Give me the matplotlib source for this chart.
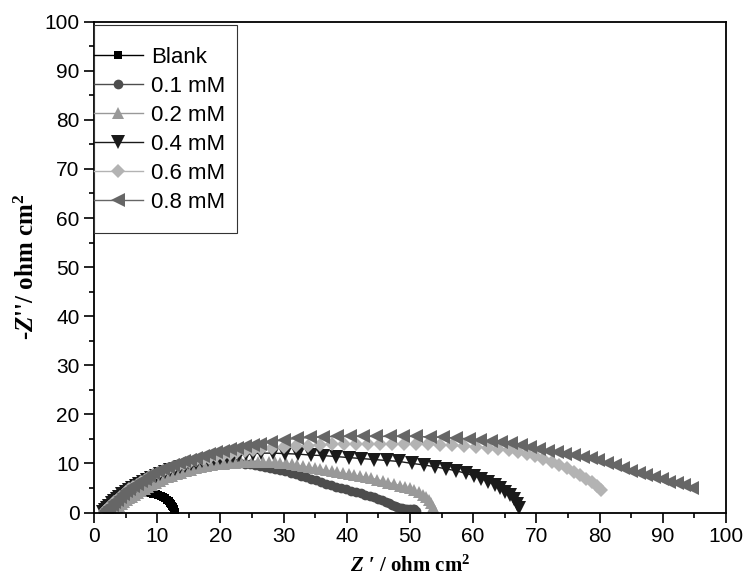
import numpy as np
import matplotlib.pyplot as plt
from matplotlib.patches import Rectangle
from matplotlib.ticker import MultipleLocator

# Datos: Z' (x) y -Z'' (y) en ohm cm2

blank_x = [1.8, 2.1, 2.4, 2.7, 3.0, 3.4, 3.8, 4.2, 4.6, 5.0, 5.4, 5.8, 6.2, 6.6, 7.0,
           7.4, 7.8, 8.2, 8.6, 9.0, 9.4, 9.8, 10.2, 10.6, 10.9, 11.2, 11.5, 11.8, 12.0,
           12.2, 12.4, 12.5, 12.6, 12.7, 12.7, 12.8, 12.8]
blank_y = [0.2, 0.6, 1.0, 1.4, 1.7, 2.1, 2.4, 2.7, 3.0, 3.2, 3.4, 3.6, 3.7, 3.8, 3.9,
           4.0, 4.0, 4.0, 4.0, 3.9, 3.8, 3.7, 3.5, 3.3, 3.1, 2.9, 2.6, 2.3, 2.0,
           1.7, 1.4, 1.1, 0.8, 0.6, 0.4, 0.2, 0.0]

c01_x = [1.5, 1.8, 2.1, 2.4, 2.7, 3.0, 3.4, 3.8, 4.2, 4.6, 5.0, 5.5, 6.0, 6.5, 7.0,
         7.6, 8.2, 8.8, 9.4, 10.0, 10.7, 11.4, 12.1, 12.8, 13.5, 14.3, 15.1, 15.9, 16.7,
         17.5, 18.3, 19.1, 19.9, 20.7, 21.5, 22.3, 23.1, 23.9, 24.7, 25.5, 26.3, 27.1,
         27.9, 28.7, 29.5, 30.3, 31.1, 31.9, 32.7, 33.5, 34.3, 35.1, 35.9, 36.7, 37.5,
         38.3, 39.1, 39.9, 40.7, 41.5, 42.2, 42.9, 43.6, 44.3, 45.0, 45.6, 46.2, 46.7,
         47.2, 47.6, 48.0, 48.4, 48.8, 49.2, 49.6, 50.0, 50.4, 50.7, 50.9]
c01_y = [0.2, 0.6, 1.0, 1.4, 1.7, 2.0, 2.4, 2.8, 3.2, 3.5, 3.9, 4.3, 4.7, 5.1, 5.5,
         5.9, 6.3, 6.6, 6.9, 7.1, 7.4, 7.7, 7.9, 8.2, 8.4, 8.6, 8.8, 9.0, 9.2,
         9.4, 9.5, 9.7, 9.8, 9.9, 10.0, 10.0, 10.0, 9.9, 9.8, 9.7, 9.5, 9.3,
         9.1, 8.9, 8.6, 8.4, 8.1, 7.8, 7.5, 7.2, 6.9, 6.6, 6.3, 5.9, 5.6,
         5.3, 5.0, 4.7, 4.4, 4.1, 3.9, 3.6, 3.3, 3.1, 2.8, 2.5, 2.2, 1.9,
         1.6, 1.3, 1.1, 0.9, 0.9, 0.8, 0.8, 0.8, 0.8, 0.7, 0.3]

c02_x = [2.8, 3.1, 3.4, 3.7, 4.0, 4.4, 4.8, 5.2, 5.6, 6.0, 6.5, 7.0, 7.5, 8.0, 8.6,
         9.2, 9.8, 10.4, 11.0, 11.7, 12.4, 13.1, 13.8, 14.6, 15.4, 16.2, 17.0, 17.8,
         18.7, 19.6, 20.5, 21.4, 22.3, 23.2, 24.1, 25.0, 25.9, 26.8, 27.7, 28.6, 29.5,
         30.4, 31.3, 32.2, 33.1, 34.0, 34.9, 35.8, 36.7, 37.6, 38.5, 39.4, 40.3, 41.2,
         42.1, 43.0, 43.9, 44.8, 45.7, 46.6, 47.5, 48.4, 49.2, 50.0, 50.7, 51.4, 52.0,
         52.5, 53.0, 53.4, 53.7, 54.0]
c02_y = [0.2, 0.5, 0.8, 1.1, 1.4, 1.8, 2.2, 2.5, 2.9, 3.2, 3.6, 4.0, 4.4, 4.8, 5.2,
         5.6, 6.0, 6.4, 6.8, 7.2, 7.5, 7.8, 8.1, 8.4, 8.7, 9.0, 9.2, 9.4,
         9.6, 9.8, 9.9, 10.0, 10.1, 10.2, 10.3, 10.3, 10.3, 10.3, 10.2, 10.2, 10.1,
         10.0, 9.8, 9.6, 9.4, 9.2, 9.0, 8.8, 8.6, 8.4, 8.2, 8.0, 7.8, 7.6,
         7.4, 7.2, 7.0, 6.7, 6.4, 6.1, 5.8, 5.5, 5.2, 4.9, 4.5, 4.1, 3.6,
         3.1, 2.5, 1.9, 1.2, 0.4]

c04_x = [1.5, 1.8, 2.1, 2.4, 2.8, 3.2, 3.6, 4.0, 4.5, 5.0, 5.5, 6.0, 6.6, 7.2, 7.8,
         8.4, 9.1, 9.8, 10.5, 11.2, 12.0, 12.8, 13.6, 14.4, 15.3, 16.2, 17.1, 18.0,
         19.0, 20.0, 21.0, 22.0, 23.0, 24.1, 25.2, 26.4, 28.3, 30.3, 32.3, 34.3, 36.3,
         38.3, 40.3, 42.3, 44.3, 46.3, 48.3, 50.3, 52.2, 54.0, 55.7, 57.3, 58.8, 60.1,
         61.3, 62.4, 63.4, 64.3, 65.1, 65.8, 66.4, 66.9, 67.3]
c04_y = [0.2, 0.6, 1.0, 1.4, 1.9, 2.3, 2.8, 3.2, 3.7, 4.2, 4.6, 5.0, 5.5, 5.9, 6.3,
         6.7, 7.1, 7.5, 7.9, 8.2, 8.6, 8.9, 9.2, 9.5, 9.8, 10.1, 10.4, 10.6,
         10.9, 11.1, 11.3, 11.5, 11.7, 11.9, 12.0, 12.1, 12.1, 12.0, 11.9, 11.7, 11.6,
         11.4, 11.2, 11.0, 10.8, 10.6, 10.4, 10.0, 9.7, 9.3, 8.9, 8.5, 8.0, 7.5,
         6.9, 6.3, 5.6, 4.9, 4.2, 3.5, 2.7, 1.8, 0.9]

c06_x = [1.8, 2.1, 2.4, 2.8, 3.2, 3.6, 4.1, 4.6, 5.1, 5.6, 6.2, 6.8, 7.4, 8.0, 8.7,
         9.4, 10.1, 10.9, 11.7, 12.5, 13.4, 14.3, 15.2, 16.2, 17.2, 18.2, 19.3, 20.4,
         21.5, 22.7, 23.9, 25.1, 26.4, 28.2, 30.1, 32.0, 33.9, 35.8, 37.7, 39.6, 41.5,
         43.4, 45.3, 47.2, 49.1, 51.0, 52.9, 54.8, 56.7, 58.6, 60.5, 62.3, 64.0, 65.6,
         67.1, 68.5, 69.8, 71.1, 72.4, 73.6, 74.8, 75.9, 76.9, 77.9, 78.8, 79.6, 80.3]
c06_y = [0.3, 0.7, 1.1, 1.6, 2.1, 2.6, 3.1, 3.6, 4.2, 4.7, 5.2, 5.7, 6.2, 6.7, 7.2,
         7.6, 8.0, 8.5, 8.9, 9.3, 9.6, 9.9, 10.2, 10.6, 10.9, 11.2, 11.5, 11.8,
         12.0, 12.3, 12.5, 12.7, 12.9, 13.1, 13.3, 13.5, 13.6, 13.8, 13.9, 14.0, 14.0,
         14.0, 14.0, 14.0, 14.0, 13.9, 13.9, 13.8, 13.7, 13.5, 13.4, 13.2, 13.0, 12.7,
         12.4, 12.0, 11.6, 11.0, 10.3, 9.7, 9.0, 8.3, 7.6, 6.9, 6.2, 5.4, 4.6]

c08_x = [1.8, 2.1, 2.4, 2.8, 3.2, 3.6, 4.1, 4.6, 5.1, 5.6, 6.2, 6.8, 7.4, 8.0, 8.7,
         9.4, 10.1, 10.9, 11.7, 12.5, 13.4, 14.3, 15.2, 16.2, 17.2, 18.2, 19.3, 20.4,
         21.5, 22.7, 23.9, 25.1, 26.3, 28.0, 30.0, 32.1, 34.2, 36.3, 38.4, 40.5, 42.6,
         44.7, 46.8, 48.9, 51.0, 53.1, 55.2, 57.3, 59.3, 61.1, 62.8, 64.4, 66.0, 67.5,
         69.0, 70.4, 71.8, 73.2, 74.6, 76.0, 77.3, 78.6, 79.8, 81.1, 82.4, 83.7, 85.0,
         86.2, 87.4, 88.6, 89.8, 91.0, 92.2, 93.4, 94.6]
c08_y = [0.3, 0.7, 1.1, 1.6, 2.1, 2.6, 3.2, 3.7, 4.3, 4.8, 5.4, 5.9, 6.4, 6.9, 7.5,
         8.0, 8.4, 8.9, 9.3, 9.7, 10.1, 10.5, 10.8, 11.2, 11.6, 12.0, 12.3, 12.6,
         12.9, 13.2, 13.5, 13.8, 14.0, 14.4, 14.8, 15.1, 15.3, 15.4, 15.5, 15.5, 15.5,
         15.5, 15.5, 15.5, 15.5, 15.4, 15.3, 15.2, 15.0, 14.8, 14.6, 14.4, 14.1, 13.7,
         13.3, 12.9, 12.6, 12.3, 12.0, 11.7, 11.4, 11.1, 10.7, 10.1, 9.6, 9.0, 8.4,
         8.0, 7.6, 7.2, 6.8, 6.3, 6.0, 5.6, 5.0]

series = [
    ("Blank", blank_x, blank_y, "s", "#000000", 6),
    ("0.1 mM", c01_x, c01_y, "o", "#4d4d4d", 7),
    ("0.2 mM", c02_x, c02_y, "^", "#999999", 9),
    ("0.4 mM", c04_x, c04_y, "v", "#1a1a1a", 9.5),
    ("0.6 mM", c06_x, c06_y, "D", "#b3b3b3", 7.5),
    ("0.8 mM", c08_x, c08_y, "<", "#666666", 9.5),
]

plt.rcParams['mathtext.fontset'] = 'custom'
plt.rcParams['mathtext.rm'] = 'Liberation Serif:bold'
plt.rcParams['mathtext.it'] = 'Liberation Serif:italic:bold'
plt.rcParams['mathtext.bf'] = 'Liberation Serif:bold'

fig = plt.figure(figsize=(7.44, 5.85), dpi=100)
ax = fig.add_axes([0.1263, 0.1239, 0.8495, 0.839])

for nombre, xs, ys, mk, col, ms in series:
    ax.plot(xs, ys, marker=mk, color=col, markersize=ms, markeredgewidth=0,
            linewidth=1, label=nombre)

ax.set_xlim(0, 100)
ax.set_ylim(0, 100)
ax.xaxis.set_major_locator(MultipleLocator(10))
ax.xaxis.set_minor_locator(MultipleLocator(5))
ax.yaxis.set_major_locator(MultipleLocator(10))
ax.yaxis.set_minor_locator(MultipleLocator(5))
ax.tick_params(which='major', direction='out', length=7, width=1.2,
               labelsize=15, top=False, right=False)
ax.tick_params(which='minor', direction='out', length=3.5, width=1.2,
               top=False, right=False)
for lab in ax.get_xticklabels() + ax.get_yticklabels():
    lab.set_fontfamily('Liberation Sans')
for sp in ax.spines.values():
    sp.set_linewidth(1.3)

ax.set_xlabel(r"$Z$ ′ / ohm cm$^{2}$", fontfamily='Liberation Serif',
              fontweight='bold', fontsize=15, labelpad=7)
ax.set_ylabel(r"-$Z$''/ ohm cm$^{2}$", fontfamily='Liberation Serif',
              fontweight='bold', fontsize=18, labelpad=4)

# marco de la leyenda dibujado a mano (el original llega hasta el borde del eje)
marco = Rectangle((0, 0.5695), 0.226, 0.4238, transform=ax.transAxes,
                  facecolor='white', edgecolor='#333333', linewidth=0.8, zorder=4)
ax.add_patch(marco)

leg = ax.legend(loc='upper left', bbox_to_anchor=(0, 0.949), borderaxespad=0,
                frameon=False, prop={'family': 'Liberation Sans', 'size': 16},
                handlelength=2.2, handletextpad=0.36, labelspacing=0.36,
                borderpad=0)
leg.set_zorder(5)

fig.savefig('out.png', dpi=100)
